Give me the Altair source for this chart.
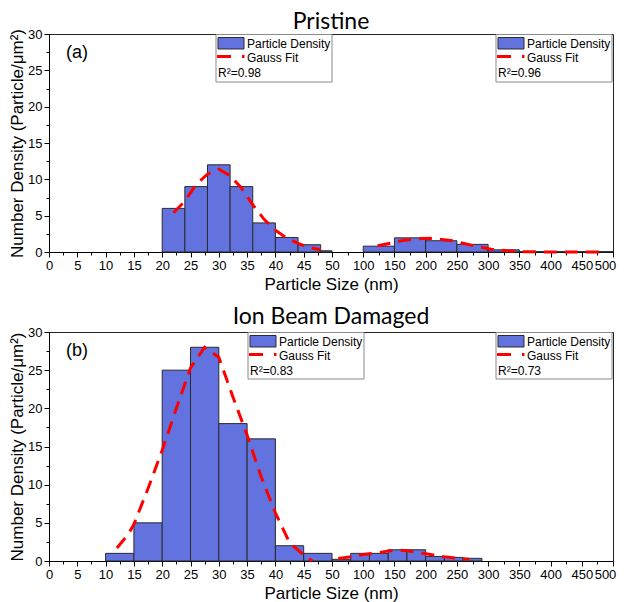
import altair as alt
import pandas as pd

# ---------------- data ----------------
top_start = [20, 24, 28, 32, 36, 40, 44, 48, 100, 150, 200, 250, 300, 350, 400, 450]
top_end = [24, 28, 32, 36, 40, 44, 48, 50, 150, 200, 250, 300, 350, 400, 450, 500]
top_h = [6, 9, 12, 9, 4, 2, 1, 0.17, 0.8, 1.95, 1.55, 1.05, 0.3, 0.05, 0.05, 0.05]

bot_start = [10, 15, 20, 25, 30, 35, 40, 45, 50, 80, 110, 140, 170, 200, 230, 260]
bot_end = [15, 20, 25, 30, 35, 40, 45, 50, 80, 110, 140, 170, 200, 230, 260, 290]
bot_h = [1, 5, 25, 28, 18, 16, 2, 1, 0.22, 1.0, 1.0, 1.47, 1.47, 0.6, 0.47, 0.35]

top_fit_left_x = [22, 24, 26, 28, 30, 32, 34, 36, 38, 40, 42, 44, 46, 48]
top_fit_left_y = [5.4, 7.0, 9.3, 10.7, 11.4, 10.5, 8.8, 6.5, 4.5, 3.0, 1.9, 1.2, 0.6, 0.3]
top_fit_right_x = [123, 144, 163, 184, 205, 226, 244, 265, 286, 305, 326, 347, 370, 400, 450, 480]
top_fit_right_y = [0.87, 1.22, 1.57, 1.79, 1.88, 1.72, 1.53, 1.09, 0.7, 0.38, 0.2, 0.06, 0.02, 0.01, 0.0, 0.0]

bot_fit_left_x = [12, 14, 15, 17.5, 20, 22.5, 25, 27.5, 30, 32.5, 35, 37.5, 40, 42.5, 45, 46.5]
bot_fit_left_y = [1.7, 3.5, 4.8, 9.5, 14.5, 20.0, 25.3, 28.0, 26.7, 21.5, 16.5, 11.0, 6.3, 2.4, 0.8, 0.0]
bot_fit_right_x = [60, 80, 100, 120, 140, 155, 170, 190, 210, 230, 250, 270]
bot_fit_right_y = [0.32, 0.55, 0.85, 1.05, 1.3, 1.42, 1.35, 1.1, 0.82, 0.55, 0.38, 0.22]

x_major = [0, 5, 10, 15, 20, 25, 30, 35, 40, 45, 50, 100, 150, 200, 250, 300, 350, 400, 450, 500]
x_minor = [2.5, 7.5, 12.5, 17.5, 22.5, 27.5, 32.5, 37.5, 42.5, 47.5, 75, 125, 175, 225, 275, 325, 375, 425, 475]
y_major = [0, 5, 10, 15, 20, 25, 30]
y_minor = [2.5, 7.5, 12.5, 17.5, 22.5, 27.5]

W = 564
BREAK = 283

panels = [
    dict(title="Pristine", tag="(a)", start=top_start, end=top_end, h=top_h,
         fl=(top_fit_left_x, top_fit_left_y), fr=(top_fit_right_x, top_fit_right_y),
         r2=["R²=0.98", "R²=0.96"], legx=[167, W - 117], height=218, legh=48, toff=-6),
    dict(title="Ion Beam Damaged", tag="(b)", start=bot_start, end=bot_end, h=bot_h,
         fl=(bot_fit_left_x, bot_fit_left_y), fr=(bot_fit_right_x, bot_fit_right_y),
         r2=["R²=0.83", "R²=0.73"], legx=[199, W - 117], height=229, legh=47, toff=-3),
]

FONT = "Liberation Sans"
BAR_FILL = "#6272DE"


def make_panel(p):
    H = p["height"]
    xs = alt.Scale(domain=[0, 50, 500], range=[0, BREAK, W], nice=False, zero=False)
    ys = alt.Scale(domain=[0, 30], nice=False, zero=False)

    bars_df = pd.DataFrame({"s": p["start"], "e": p["end"], "h": p["h"]})
    fit_df = pd.concat([
        pd.DataFrame({"x": p["fl"][0], "y": p["fl"][1], "seg": "left"}),
        pd.DataFrame({"x": p["fr"][0], "y": p["fr"][1], "seg": "right"}),
    ])

    bars = alt.Chart(bars_df).mark_rect(fill=BAR_FILL, stroke="#2b2b2b", strokeWidth=1).encode(
        x=alt.X("s:Q", scale=xs, axis=alt.Axis(
            values=x_major, title="Particle Size (nm)", orient="bottom",
            labelOffset={"condition": {"test": "datum.value === 500", "value": -8}, "value": 0})),
        x2="e:Q",
        y=alt.Y("h:Q", scale=ys, axis=alt.Axis(values=y_major, title="Number Density (Particle/μm²)", orient="left")),
        y2=alt.datum(0),
    )
    minor = alt.Chart(fit_df).mark_point(opacity=0).encode(
        x=alt.X("x:Q", scale=xs, axis=alt.Axis(values=x_minor, labels=False, title=None, tickSize=3,
                                               domain=False, orient="bottom")),
        y=alt.Y("y:Q", scale=ys, axis=alt.Axis(values=y_minor, labels=False, title=None, tickSize=3,
                                               domain=False, orient="left")),
    )
    fit = alt.Chart(fit_df).mark_line(color="#FF0000", strokeWidth=3, strokeDash=[13, 8]).encode(
        x=alt.X("x:Q", scale=xs, axis=None), y=alt.Y("y:Q", scale=ys, axis=None), detail="seg:N"
    )

    one = alt.Data(values=[{"a": 1}])
    layers = [bars, fit]
    for lx, r2 in zip(p["legx"], p["r2"]):
        lh = p["legh"]
        layers.append(alt.Chart(one).mark_rect(fill="white", stroke="#8a8a8a", strokeWidth=1).encode(
            x=alt.value(lx), x2=alt.value(lx + 116), y=alt.value(0.5), y2=alt.value(lh)))
        layers.append(alt.Chart(one).mark_rect(fill=BAR_FILL, stroke="#2b2b2b", strokeWidth=1).encode(
            x=alt.value(lx + 2), x2=alt.value(lx + 28), y=alt.value(3.5), y2=alt.value(15)))
        layers.append(alt.Chart(one).mark_rule(color="#FF0000", strokeWidth=3).encode(
            x=alt.value(lx + 1), x2=alt.value(lx + 15), y=alt.value(22.5)))
        layers.append(alt.Chart(one).mark_rule(color="#FF0000", strokeWidth=3).encode(
            x=alt.value(lx + 26), x2=alt.value(lx + 28.5), y=alt.value(22.5)))
        for txt, tx, ty in [("Particle Density", lx + 31, 13.5), ("Gauss Fit", lx + 31, 27.5), (r2, lx + 2, 42.5)]:
            layers.append(alt.Chart(one).mark_text(align="left", baseline="alphabetic", font=FONT,
                                                  fontSize=12, color="black").encode(
                x=alt.value(tx), y=alt.value(ty), text=alt.value(txt)))
    layers.append(alt.Chart(one).mark_text(align="left", baseline="alphabetic", font=FONT,
                                          fontSize=18, color="black").encode(
        x=alt.value(17), y=alt.value(24), text=alt.value(p["tag"])))
    layers.append(minor)

    return alt.layer(*layers).resolve_axis(x="independent", y="independent").properties(
        width=W, height=H,
        title=alt.TitleParams(p["title"], font="Lato", fontSize=23, fontWeight="normal",
                              anchor="middle", offset=p["toff"], frame="group", color="black"),
    )


chart = alt.vconcat(
    make_panel(panels[0]), make_panel(panels[1]), spacing=12,
    padding={"top": 2, "left": 0, "right": 0, "bottom": 0},
).configure_view(
    stroke="#222", strokeWidth=1
).configure_axis(
    grid=False, labelFont=FONT, labelFontSize=13, labelColor="black", titleFont=FONT,
    titleFontSize=17, titleFontWeight="normal", titleColor="black", tickColor="black",
    domainColor="black", tickSize=5, labelPadding=2, labelFlush=False, labelOverlap=False,
).configure_axisX(titlePadding=4).configure_axisY(titlePadding=1)

chart.save("out.html", embed_options={"renderer": "svg", "actions": False})
